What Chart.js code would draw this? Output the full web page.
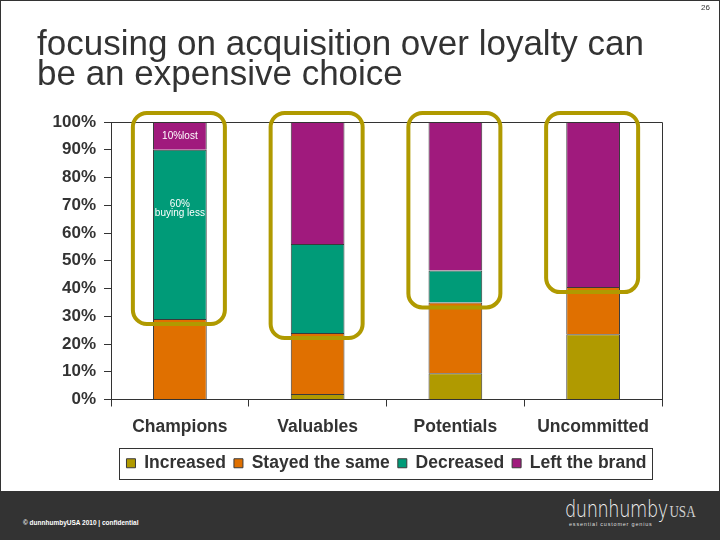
<!DOCTYPE html>
<html>
<head>
<meta charset="utf-8">
<script src="https://cdn.jsdelivr.net/npm/chart.js@4.4.1/dist/chart.umd.min.js"></script>
<style>
  html, body { margin: 0; padding: 0; background: #fff; }
  #slide { position: relative; width: 720px; height: 540px; overflow: hidden; background: #fff; font-family: "Liberation Sans", Arial, sans-serif; }
  #frame { position: absolute; left: 0; top: 0; width: 718px; height: 538px; border: 1px solid #333; pointer-events: none; }
  #chartwrap { position: absolute; left: 0; top: 0; width: 720px; height: 491px; }
  #title { position: absolute; left: 37px; top: 28px; font-size: 35px; line-height: 30px; color: #333; white-space: nowrap; }
  #pnum { position: absolute; left: 701px; top: 3px; font-size: 8px; color: #333; }
  #footer { position: absolute; left: 0; top: 491px; width: 720px; height: 49px; background: #333333; }
  #copy { position: absolute; left: 23px; top: 28px; font-size: 6.5px; color: #fff; font-weight: bold; }
  #logo { position: absolute; left: 565px; top: 5px; white-space: nowrap; transform: scaleX(0.77); transform-origin: 0 0; }
  #dh { font-family: "DejaVu Sans", sans-serif; font-size: 23px; color: #f2f2f2; font-weight: 200; letter-spacing: -0.5px; }
  #usa { font-family: "Liberation Serif", serif; font-size: 17px; color: #cfcfcf; margin-left: 2px; }
  #tag { position: absolute; left: 569px; top: 30px; font-size: 5.5px; color: #ddd; letter-spacing: 0.8px; }
</style>
</head>
<body>
<div id="slide">
  <div id="chartwrap"><canvas id="c" width="720" height="491"></canvas></div>
  <div id="title">focusing on acquisition over loyalty can<br>be an expensive choice</div>
  <div id="pnum">26</div>
  <div id="footer">
    <div id="copy">© dunnhumbyUSA 2010 | confidential</div>
    <div id="logo"><span id="dh">dunnhumby</span><span id="usa">USA</span></div>
    <div id="tag">essential customer genius</div>
  </div>
  <div id="frame"></div>
</div>
<script>
const categories = ["Champions", "Valuables", "Potentials", "Uncommitted"];
const increased = [0, 2, 9.5, 23.5];
const stayedSame = [29, 22, 25.5, 17];
const decreased = [61, 32, 11.5, 0];
const leftBrand = [10, 44, 53.5, 59.5];
const yTicks = [0, 10, 20, 30, 40, 50, 60, 70, 80, 90, 100];
// annotations: [category index, value, text]
const notes = [[0, 95, "10%lost"], [0, 70.3, "60%"], [0, 67, "buying less"]];

const C_OLIVE = "#B09A00", C_ORANGE = "#E07000", C_TEAL = "#009B78", C_PURPLE = "#A01A7D";
const FONT = '"Liberation Sans", Arial, sans-serif';

const overlay = {
  id: "overlay",
  afterLayout(chart) {
    const lg = chart.legend, a = chart.chartArea;
    if (!lg) return;
    const shift = (a.left + a.right) / 2 - (lg.left + lg.right) / 2;
    lg.left += shift; lg.right += shift;
  },
  afterDatasetsDraw(chart) {
    const ctx = chart.ctx, a = chart.chartArea;
    const x = chart.scales.x, y = chart.scales.y;
    ctx.save();
    ctx.strokeStyle = "#333"; ctx.lineWidth = 1;
    ctx.beginPath();
    ctx.moveTo(Math.round(a.left) + 0.5, Math.round(a.top) + 0.5);
    ctx.lineTo(Math.round(a.right) + 0.5, Math.round(a.top) + 0.5);
    ctx.lineTo(Math.round(a.right) + 0.5, Math.round(a.bottom) + 0.5);
    ctx.stroke();
    ctx.strokeStyle = C_OLIVE; ctx.lineWidth = 4;
    categories.forEach((c, i) => {
      const cx = x.getPixelForValue(i) - 1;
      const base = increased[i] + stayedSame[i];
      const top = y.getPixelForValue(100) - 9;
      const bot = y.getPixelForValue(base) + 5;
      ctx.beginPath();
      ctx.roundRect(cx - 46, top, 92, bot - top, 14);
      ctx.stroke();
    });
    ctx.fillStyle = "#fff";
    ctx.font = "10px " + FONT;
    ctx.textAlign = "center"; ctx.textBaseline = "middle";
    notes.forEach(n => {
      ctx.fillText(n[2], x.getPixelForValue(n[0]), y.getPixelForValue(n[1]));
    });
    ctx.restore();
  },
  afterDraw(chart) {
    const lg = chart.legend;
    if (!lg || !lg.legendHitBoxes || !lg.legendHitBoxes.length) return;
    const hb = lg.legendHitBoxes;
    const l = Math.min(...hb.map(h => h.left)) - 7;
    const r = Math.max(...hb.map(h => h.left + h.width)) + 6;
    const cy = hb[0].top + hb[0].height / 2;
    const ctx = chart.ctx;
    ctx.save();
    ctx.strokeStyle = "#333"; ctx.lineWidth = 1;
    ctx.strokeRect(Math.round(l) + 0.5, Math.round(cy - 15) + 0.5, Math.round(r - l), 31);
    ctx.restore();
  }
};

const ds = (label, data, color) => ({
  label, data, backgroundColor: color, borderColor: "#3a3a3a", borderWidth: 1,
  categoryPercentage: 1.0, barPercentage: 0.39
});

new Chart(document.getElementById("c"), {
  type: "bar",
  data: {
    labels: categories,
    datasets: [
      ds("Increased", increased, C_OLIVE),
      ds("Stayed the same", stayedSame, C_ORANGE),
      ds("Decreased", decreased, C_TEAL),
      ds("Left the brand", leftBrand, C_PURPLE)
    ]
  },
  plugins: [overlay],
  options: {
    responsive: false,
    animation: false,
    layout: { padding: { left: 0, right: 58, top: 122, bottom: 9 } },
    plugins: {
      tooltip: { enabled: false },
      legend: {
        position: "bottom",
        labels: {
          font: { family: FONT, size: 17.5, weight: "bold" },
          color: "#333",
          boxWidth: 9, boxHeight: 9,
          padding: 8
        }
      }
    },
    scales: {
      x: {
        stacked: true,
        grid: { display: true, drawOnChartArea: false, offset: true, tickLength: 7, color: "#333" },
        border: { display: true, color: "#333" },
        ticks: { font: { family: FONT, size: 17.5, weight: "bold" }, color: "#333", padding: 10 },
        afterFit(s) { s.height = 47; }
      },
      y: {
        stacked: true, min: 0, max: 100,
        afterBuildTicks(s) { s.ticks = yTicks.map(v => ({ value: v })); },
        grid: { display: true, drawOnChartArea: false, tickLength: 7, color: "#333" },
        border: { display: true, color: "#333" },
        ticks: {
          font: { family: FONT, size: 17, weight: "bold" }, color: "#333", padding: 8,
          callback: v => v + "%"
        },
        afterFit(s) { s.width = 111; }
      }
    }
  }
});
</script>
</body>
</html>
